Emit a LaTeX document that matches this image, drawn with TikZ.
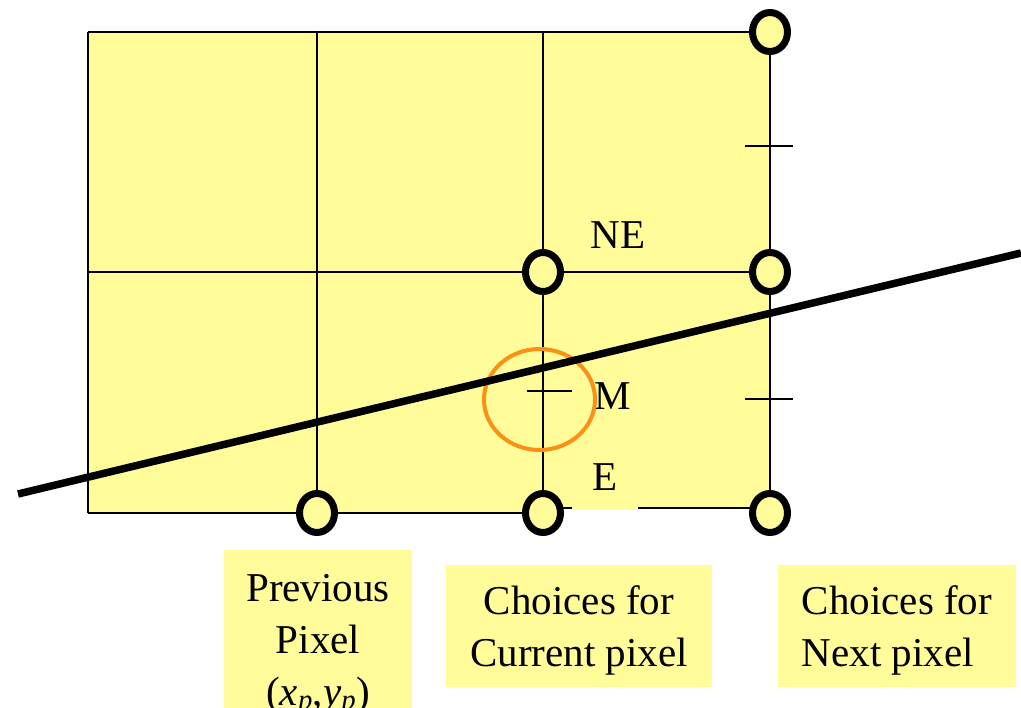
\documentclass[tikz,border=0pt]{standalone}
\usepackage{fontspec}
\setmainfont{Liberation Serif}
\usetikzlibrary{shapes.geometric}
\definecolor{padyellow}{RGB}{255, 252, 153}
\definecolor{ringorange}{RGB}{250, 145, 20}
\tikzset{
  gridln/.style   = {black, line width=1.8pt},
  tickln/.style   = {black, line width=1.5pt},
  scanln/.style   = {black, line width=7.5pt},
  ringln/.style   = {ringorange, line width=4pt},
  pixdot/.style   = {ellipse, draw=black, fill=padyellow, line width=7pt, minimum width=35pt, minimum height=39pt, inner sep=0pt},
  ptlabel/.style  = {font=\fontsize{41}{52}\selectfont, inner sep=0pt},
  capbox/.style   = {rectangle, fill=padyellow, font=\fontsize{41}{52}\selectfont, inner sep=0pt},
}

\begin{document}
\begin{tikzpicture}[x=1pt, y=-1pt]
  \useasboundingbox (0,0) rectangle (1021,708);

  % grid corners
  \coordinate (g-tl) at (88,32);
  \coordinate (g-t1) at (317,32);
  \coordinate (g-t2) at (543,32);
  \coordinate (g-ml) at (88,272);
  \coordinate (g-bl) at (88,513);
  \coordinate (g-b2) at (543,508);

  \fill[padyellow] (88,32) -- (770,32) -- (770,508) -- (543,508) -- (543,513) -- (88,513) -- cycle;

  % pixels
  \node[pixdot, draw=none, fill=none] (prev)   at (317,513) {};
  \node[pixdot, draw=none, fill=none] (curE)   at (543,513) {};
  \node[pixdot, draw=none, fill=none] (curNE)  at (543,272) {};
  \node[pixdot, draw=none, fill=none] (nextE)  at (770,513) {};
  \node[pixdot, draw=none, fill=none] (nextNE) at (770,272) {};
  \node[pixdot, draw=none, fill=none] (nextT)  at (770,32) {};

  \draw[gridln] (g-tl) -- (nextT.center);
  \draw[gridln] (g-ml) -- (nextNE.center);
  \draw[gridln] (g-bl) -- (curE.center);
  \draw[gridln] (g-b2) -- (nextE.center |- g-b2);
  \draw[gridln] (g-tl) -- (g-bl);
  \draw[gridln] (g-t1) -- (prev.center);
  \draw[gridln] (g-t2) -- (curE.center);
  \draw[gridln] (nextT.center) -- (770,508);

  % midpoints
  \draw[tickln] (745,146) -- (793,146);
  \draw[tickln] (745,399) -- (793,399);
  \draw[tickln] (527,391) -- (572,391);

  \node[ptlabel, anchor=base] (lblNE) at (618,249) {NE};
  \node[ptlabel, anchor=base] (lblM)  at (613,410) {M};
  \node[capbox, minimum width=66pt, minimum height=66pt] (lblE) at (605,477) {E};

  \draw[ringln] (539.5,399.5) ellipse [x radius=55.5, y radius=50.5];

  \coordinate (scan-a) at (18,494);
  \coordinate (scan-b) at (1021,253);
  \draw[scanln] (scan-a) -- (scan-b);

  \foreach \p in {prev, curE, curNE, nextE, nextNE, nextT}
    \node[pixdot] at (\p.center) {};

  \node[capbox, minimum width=188pt, minimum height=190pt, align=center] (boxPrev) at (318,645)
    {Previous\\Pixel\\(\textit{x}\textsubscript{\textit{p}},\textit{y}\textsubscript{\textit{p}})};
  \node[capbox, minimum width=266pt, minimum height=122pt, align=center, text depth=0pt] (boxCur) at (579,626)
    {Choices for\\Current pixel};
  \node[capbox, minimum width=238pt, minimum height=122pt, align=left, text depth=0pt] (boxNext) at (897,626)
    {Choices for\\Next pixel};
\end{tikzpicture}
\end{document}
